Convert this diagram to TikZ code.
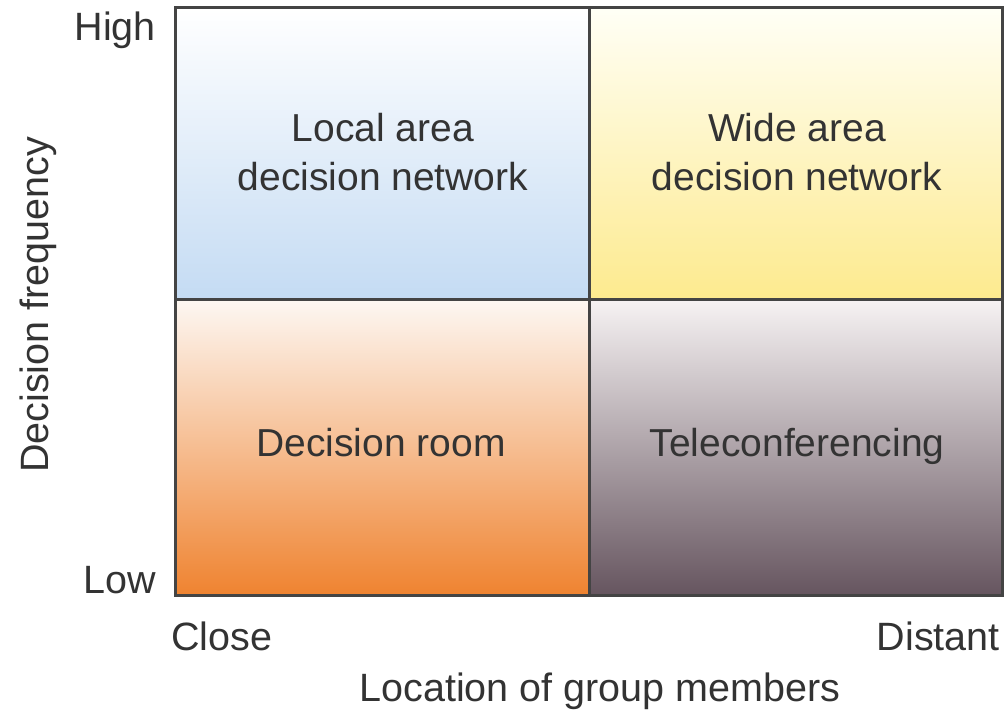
\documentclass[tikz,border=0pt]{standalone}
\usepackage{fontspec}
\setmainfont{Liberation Sans}
\definecolor{tlbot}{HTML}{C4DBF3}
\definecolor{trtop}{HTML}{FFFFF6}
\definecolor{trbot}{HTML}{FDEA8E}
\definecolor{bltop}{HTML}{FDF7F2}
\definecolor{blbot}{HTML}{EF8330}
\definecolor{brtop}{HTML}{F6F2F3}
\definecolor{brbot}{HTML}{66555F}
\definecolor{txt}{HTML}{333333}
\definecolor{frame}{HTML}{444444}
\tikzset{
  lbl/.style={font=\fontsize{39}{49}\selectfont, text=txt, inner sep=0pt, align=center},
  axlbl/.style={font=\fontsize{39.5}{42}\selectfont, text=txt, inner sep=0pt},
  divider/.style={draw=frame, line width=3pt}
}
\begin{document}
\begin{tikzpicture}[x=1pt,y=1pt]
\useasboundingbox[fill=white] (0,0) rectangle (1004,713);
% quadrants
\shade[top color=white, bottom color=tlbot] (175,413) rectangle (589,705);
\shade[top color=trtop, bottom color=trbot] (589,413) rectangle (1002,705);
\shade[top color=bltop, bottom color=blbot] (175,118) rectangle (589,413);
\shade[top color=brtop, bottom color=brbot] (589,118) rectangle (1002,413);
% frame and dividers
\coordinate (tl) at (175,705);
\coordinate (tr) at (1002,705);
\coordinate (bl) at (175,118);
\coordinate (br) at (1002,118);
\coordinate (mt) at (589,705);
\coordinate (mb) at (589,118);
\coordinate (ml) at (175,413);
\coordinate (mr) at (1002,413);
\draw[divider] (tl) rectangle (br);
\draw[divider] (mt) -- (mb);
\draw[divider] (ml) -- (mr);
% quadrant labels
\node[lbl] (lan) at (383,561) {Local area\\decision network};
\node[lbl] (wan) at (797,561) {Wide area\\decision network};
\node[lbl] (room) at (381,270) {Decision room};
\node[lbl] (tele) at (797,267) {Teleconferencing};
% axis labels
\node[axlbl, anchor=east] (high) at (156,683) {High};
\node[axlbl, anchor=east] (low) at (156,133) {Low};
\node[axlbl, anchor=west] (close) at (171,77) {Close};
\node[axlbl, anchor=east] (distant) at (1000,77) {Distant};
\node[axlbl] (xlab) at (600,22) {Location of group members};
\node[axlbl, rotate=90] (ylab) at (38,408) {Decision frequency};
\end{tikzpicture}
\end{document}
